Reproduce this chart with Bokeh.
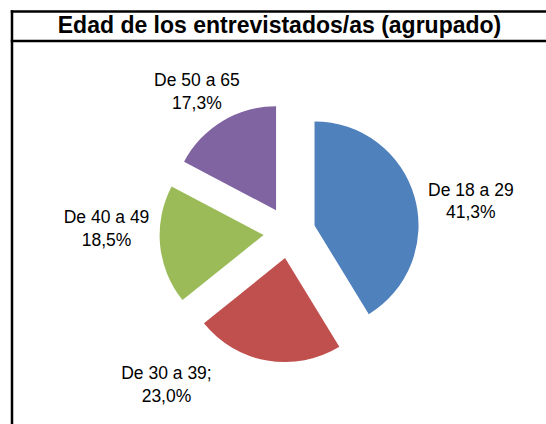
import numpy as np
from bokeh.plotting import figure
from bokeh.models import ColumnDataSource, BoxAnnotation, Label
from bokeh.core.properties import value
from bokeh.embed import file_html
from bokeh.resources import INLINE

# ---- data ----
categories = ["De 18 a 29", "De 30 a 39;", "De 40 a 49", "De 50 a 65"]
percent = [41.3, 23.0, 18.5, 17.3]
colors = ["#4F81BD", "#C0504D", "#9BBB59", "#8064A2"]
title_text = "Edad de los entrevistados/as (agrupado)"

# ---- layout (pixels) ----
W, H = 546, 424
cx, cy = 289, 192
radius = 104
explode = 26
label_angle_deg = [80.2, 219.0, 271.3, 326.7]   # clockwise from 12 o'clock
label_dist = [184, 195.5, 183, 168.6]
frame_left, frame_top, band_bottom, lw = 11.5, 413, 383.5, 2.5

vals = np.array(percent, dtype=float)
frac = vals / vals.sum()
end_cw = np.cumsum(frac) * 2 * np.pi
start_cw = end_cw - frac * 2 * np.pi
mid_cw = (start_cw + end_cw) / 2

wx = cx + explode * np.sin(mid_cw)
wy = cy + explode * np.cos(mid_cw)
start_angle = np.pi / 2 - end_cw
end_angle = np.pi / 2 - start_cw

la = np.radians(label_angle_deg)
lx = cx + np.array(label_dist) * np.sin(la)
ly = cy + np.array(label_dist) * np.cos(la)
texts = [f"{c}\n{v:.1f}%".replace(".", ",") for c, v in zip(categories, percent)]

src = ColumnDataSource(dict(x=wx, y=wy, start=start_angle, end=end_angle, color=colors,
                            lx=lx, ly=ly, text=texts))

p = figure(width=W, height=H, x_range=(0, W), y_range=(0, H),
           output_backend="svg", toolbar_location=None,
           x_axis_type=None, y_axis_type=None, min_border=0,
           outline_line_color=None, background_fill_color="white")

p.wedge(x="x", y="y", radius=radius, start_angle="start", end_angle="end",
        fill_color="color", line_color=None, source=src)

p.text(x="lx", y="ly", text="text", source=src, text_align="center",
       text_baseline="middle", text_font=value("Liberation Sans"),
       text_font_size="17.5px", text_line_height=1.12, text_color="black")

# frame lines (left, top) and title band separator, drawn as thin filled bars
h = lw / 2
for box in [
    dict(left=frame_left - h, right=None, top=frame_top + h, bottom=frame_top - h),
    dict(left=frame_left - h, right=frame_left + h, top=frame_top + h, bottom=None),
    dict(left=frame_left - h, right=None, top=band_bottom + h, bottom=band_bottom - h),
]:
    p.add_layout(BoxAnnotation(**box, fill_color="black", fill_alpha=1.0, line_color=None))

p.add_layout(Label(x=279, y=400, text=title_text, text_align="center",
                   text_baseline="middle", text_font="Liberation Sans",
                   text_font_style="bold", text_font_size="23px", text_color="black"))

open("out.html", "w").write(file_html(p, INLINE))
